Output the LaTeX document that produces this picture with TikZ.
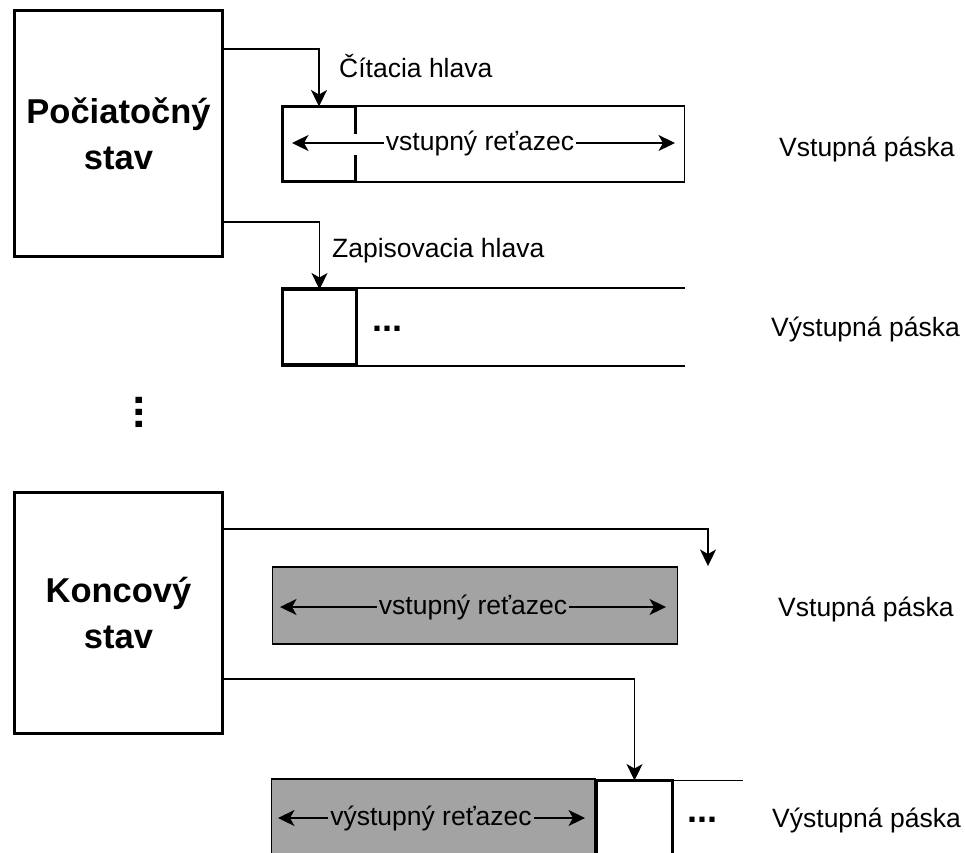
\documentclass[tikz,border=0pt]{standalone}
\usepackage{fontspec}
\setmainfont{Liberation Sans}
\usetikzlibrary{arrows.meta,calc}
\definecolor{tapegray}{RGB}{163,163,163}
\newcommand\lblfont{\fontsize{26.5}{30}\selectfont}
\newcommand\statefont{\fontsize{34.5}{46}\selectfont\bfseries}
\begin{document}
\begin{tikzpicture}[x=1pt,y=-1pt,
  tip/.style={-{Stealth[length=16.5pt,width=16pt,inset=4.5pt]}},
  conn/.style={line width=1.3pt, tip},
  statebox/.style={draw, line width=3pt, align=center, font=\statefont,
    inner sep=0pt, outer sep=0pt},
  tapebox/.style={draw, line width=1.3pt, inner sep=0pt, outer sep=0pt},
  blank/.style={inner sep=0pt, outer sep=0pt},
  headbox/.style={draw, line width=3pt, inner sep=0pt, outer sep=0pt},
  graytape/.style={tapebox, fill=tapegray},
  lbl/.style={font=\lblfont, inner sep=0pt, anchor=base west},
  strtext/.style={font=\lblfont, inner sep=2pt},
  hdots/.style={font=\fontsize{36}{36}\selectfont\bfseries, inner sep=0pt},
  vdots/.style={font=\fontsize{44}{44}\selectfont\bfseries, inner sep=0pt, rotate=90}
]
\useasboundingbox (0,0) rectangle (965,852);
\clip (0,0) rectangle (965,852);

% ---------- initial configuration ----------
\node[statebox, minimum width=208pt, minimum height=246pt] (s1) at (118.5,133.5)
  {Počiatočný\\stav};

% input tape with the reading head
\node[tapebox, minimum width=403pt, minimum height=76pt] (tp1) at (483,144) {};
\node[blank, minimum width=73pt, minimum height=75pt] (rh) at (319,144) {};
\draw[line width=3pt] ($(rh.north east)+(0,27)$) -- (rh.north east) -- (rh.north west)
  -- (rh.south west) -- (rh.south east) -- ($(rh.south east)+(0,-26.5)$);
\node[strtext] (t1) at (480,143) {vstupný reťazec};
\coordinate (t1l) at (292,143);
\coordinate (t1r) at (675,143);
\draw[line width=1.3pt, tip] (t1.west) -- (t1l);
\draw[line width=1.3pt, tip] (t1.east) -- (t1r);

% output tape with the writing head
\node[blank, minimum width=404pt, minimum height=78pt] (ot1) at (483,327) {};
\draw[line width=1.3pt] (ot1.north west) -- (ot1.north east)
  (ot1.south west) -- (ot1.south east);
\node[headbox, fill=white, minimum width=74pt, minimum height=75pt] (wh) at (319.5,327) {};
\node[hdots] (d1) at (387,329) {...};

% heads attached to the state
\coordinate (y1) at (0,49);
\coordinate (y2) at (0,222);
\draw[conn] (s1.east |- y1) -| (rh.north);
\draw[conn] (s1.east |- y2) -| (wh.north);
\node[lbl] (rl) at (339,77) {Čítacia hlava};
\node[lbl] (wl) at (332,257) {Zapisovacia hlava};

\node[lbl] (in1) at (779,156) {Vstupná páska};
\node[lbl] (out1) at (771,336) {Výstupná páska};

% continuation
\node[vdots] (vd) at (139,412.5) {...};

% ---------- final configuration ----------
\node[statebox, minimum width=208pt, minimum height=241pt] (s2) at (118.5,613)
  {Koncový\\stav};

% input tape, fully read
\node[graytape, minimum width=405pt, minimum height=77pt] (tp2) at (475,605.5) {};
\node[strtext] (t2) at (473,607) {vstupný reťazec};
\coordinate (t2l) at (280,607);
\coordinate (t2r) at (666,607);
\draw[line width=1.3pt, tip] (t2.west) -- (t2l);
\draw[line width=1.3pt, tip] (t2.east) -- (t2r);

% output tape holding the written string
\node[graytape, minimum width=323.5pt, minimum height=102pt] (tp3) at (433.25,830) {};
\node[headbox, fill=white, minimum width=76pt, minimum height=100pt] (wh2) at (634.5,830.5) {};
\coordinate (otend) at (743,779);
\draw[line width=1.3pt] (wh2.north east) -- (wh2.north east -| otend);
\node[strtext] (t3) at (431,818) {výstupný reťazec};
\coordinate (t3l) at (278,818);
\coordinate (t3r) at (585,818);
\draw[line width=1.3pt, tip] (t3.west) -- (t3l);
\draw[line width=1.3pt, tip] (t3.east) -- (t3r);
\node[hdots] (d2) at (702,820) {...};

% heads attached to the final state
\coordinate (y3) at (0,529);
\coordinate (y4) at (0,679);
\coordinate (rhend) at (708,566);
\draw[conn] (s2.east |- y3) -| (rhend);
\draw[conn] (s2.east |- y4) -| (wh2.north);

\node[lbl] (in2) at (778,616) {Vstupná páska};
\node[lbl] (out2) at (772,827) {Výstupná páska};
\end{tikzpicture}
\end{document}
